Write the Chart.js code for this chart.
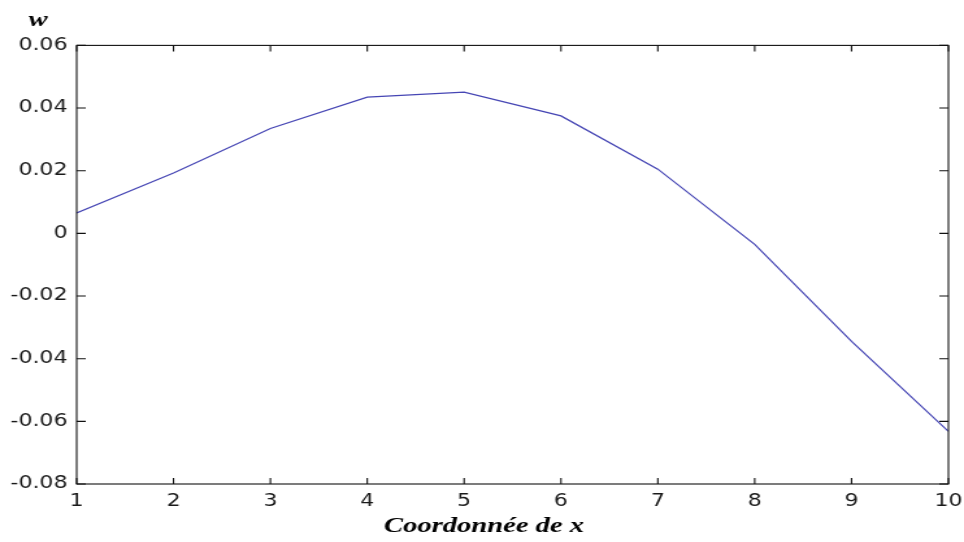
<!DOCTYPE html>
<html>
<head>
<meta charset="utf-8">
<script src="https://cdn.jsdelivr.net/npm/chart.js@4"></script>
<style>
  html, body { margin: 0; padding: 0; background: #fff; }
</style>
</head>
<body>
<!-- drawn 742px wide, stretched sideways to 964px -->
<canvas id="plot" width="742" height="542" style="width:964px;height:542px;display:block"></canvas>
<script>
// node coordinate and deflection w at each node
const xs = [1, 2, 3, 4, 5, 6, 7, 8, 9, 10];
const ws = [0.0065, 0.0193, 0.0335, 0.0435, 0.0451, 0.0375, 0.0205, -0.0035, -0.0345, -0.0632];
const yMin = -0.08;
const yMax = 0.06;
const yStep = 0.02;

// closed box with inward tick marks on all four sides
const boxTicks = {
  id: 'boxTicks',
  afterDatasetsDraw(chart) {
    const { ctx, chartArea: a, scales: { x, y } } = chart;
    ctx.save();
    ctx.strokeStyle = '#111';
    ctx.lineWidth = 1.1;
    ctx.strokeRect(a.left, a.top, a.right - a.left, a.bottom - a.top);
    ctx.beginPath();
    x.ticks.forEach((t) => {
      const px = x.getPixelForValue(t.value);
      ctx.moveTo(px, a.bottom);
      ctx.lineTo(px, a.bottom - 6);
      ctx.moveTo(px, a.top);
      ctx.lineTo(px, a.top + 6);
    });
    y.ticks.forEach((t) => {
      const py = y.getPixelForValue(t.value);
      ctx.moveTo(a.left, py);
      ctx.lineTo(a.left + 7, py);
      ctx.moveTo(a.right, py);
      ctx.lineTo(a.right - 7, py);
    });
    ctx.stroke();
    ctx.restore();
  },
};

const tickFont = { family: 'DejaVu Sans', size: 17 };
const titleFont = { family: 'Liberation Serif', size: 22, style: 'italic', weight: 'bold' };
const nbsp = '\u00a0';

new Chart(document.getElementById('plot'), {
  type: 'line',
  data: {
    datasets: [
      {
        data: xs.map((x, i) => ({ x: x, y: ws[i] })),
        borderColor: '#4646b4',
        borderWidth: 1.2,
        pointRadius: 0,
        tension: 0,
      },
    ],
  },
  options: {
    responsive: false,
    devicePixelRatio: 1,
    animation: false,
    layout: {
      padding: { left: 0, right: 0, top: 0, bottom: 0 },
    },
    scales: {
      x: {
        type: 'linear',
        min: 1,
        max: 10,
        ticks: { stepSize: 1, padding: 7, color: '#1a1a1a', font: tickFont },
        grid: { display: false, drawTicks: false },
        border: { display: false },
        title: {
          display: true,
          text: 'Coordonnée de x' + nbsp.repeat(8),
          color: '#000',
          font: titleFont,
          padding: { top: 0, bottom: 2 },
        },
        afterFit: (s) => {
          s.height = 58;
          s.paddingLeft = 0;
          s.paddingRight = 12;
        },
      },
      y: {
        min: yMin,
        max: yMax,
        ticks: {
          stepSize: yStep,
          padding: 7,
          color: '#1a1a1a',
          font: tickFont,
          callback: (v) => (Math.abs(v) < 1e-9 ? '0' : v.toFixed(2)),
        },
        grid: { display: false, drawTicks: false },
        border: { display: false },
        afterFit: (s) => { s.width = 59; },
      },
    },
    plugins: {
      legend: { display: false },
      tooltip: { enabled: false },
      title: {
        display: true,
        text: nbsp.repeat(4) + 'w',
        align: 'start',
        color: '#000',
        font: titleFont,
        padding: { top: 7, bottom: 12 },
      },
    },
  },
  plugins: [boxTicks],
});
</script>
</body>
</html>
